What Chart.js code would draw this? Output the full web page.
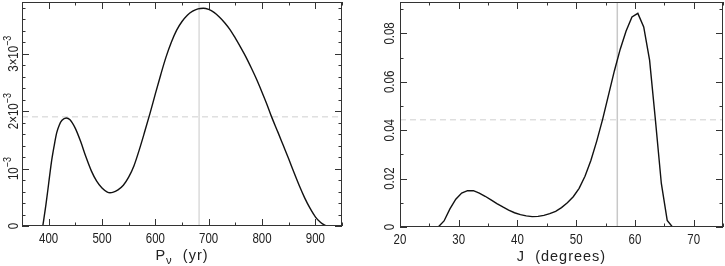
<!DOCTYPE html>
<html>
<head>
<meta charset="utf-8">
<script src="https://cdn.jsdelivr.net/npm/chart.js@4/dist/chart.umd.min.js"></script>
<style>
    html, body { margin: 0; padding: 0; background: #fff; }
    #wrap { position: relative; width: 725px; height: 266px; overflow: hidden; }
    .panel { position: absolute; top: 0; height: 266px; }
    #left { left: 0; width: 362px; }
    #right { left: 362px; width: 363px; }
</style>
</head>
<body>
<div id="wrap">
    <div class="panel" id="left"><canvas id="chartP"></canvas></div>
    <div class="panel" id="right"><canvas id="chartJ"></canvas></div>
</div>
<script>
// Left panel: distribution of the period P_nu (yr)
const periodYears = [389, 395, 400, 405, 410, 415, 420, 425, 433, 440, 450, 460, 470, 480, 490, 500, 510, 515, 520, 530,
    540, 550, 560, 570, 580, 590, 600, 610, 620, 630, 640, 650, 660, 670, 680, 690, 700, 710, 720, 730,
    740, 750, 760, 770, 780, 790, 800, 810, 818, 830, 840, 850, 860, 870, 880, 890, 900, 910, 920];
const periodDensity = [0, 0.38e-3, 0.74e-3, 1.10e-3, 1.38e-3, 1.62e-3, 1.76e-3, 1.84e-3, 1.88e-3, 1.85e-3,
    1.70e-3, 1.47e-3, 1.20e-3, 0.96e-3, 0.78e-3, 0.66e-3, 0.59e-3, 0.58e-3, 0.585e-3, 0.63e-3,
    0.71e-3, 0.85e-3, 1.05e-3, 1.33e-3, 1.64e-3, 1.96e-3, 2.30e-3, 2.63e-3, 2.94e-3, 3.20e-3,
    3.41e-3, 3.56e-3, 3.67e-3, 3.74e-3, 3.78e-3, 3.79e-3, 3.77e-3, 3.72e-3, 3.64e-3, 3.54e-3,
    3.42e-3, 3.27e-3, 3.11e-3, 2.94e-3, 2.75e-3, 2.55e-3, 2.33e-3, 2.10e-3, 1.90e-3, 1.63e-3,
    1.40e-3, 1.17e-3, 0.93e-3, 0.70e-3, 0.49e-3, 0.31e-3, 0.16e-3, 0.06e-3, 0];
const periodMarker = 682;      // grey vertical line
const periodLevel = 1.9e-3;    // dashed horizontal line
const periodXTicks = [400, 500, 600, 700, 800, 900];
const periodYTicks = [0, 1e-3, 2e-3, 3e-3];
const periodYLabels = ['0', '10^{−3}', '2×10^{−3}', '3×10^{−3}'];

// Right panel: distribution of J (degrees)
const inclDegrees = [26.5, 27.5, 28.5, 29.5, 30.5, 31.5, 32.5, 33.5, 34.5, 35.5, 36.5, 37.5, 38.5, 39.5, 40.5,
    41.5, 42.5, 43.5, 44.5, 45.5, 46.5, 47.5, 48.5, 49.5, 50.5, 51.5, 52.5, 53.5, 54.5, 55.5,
    56.5, 57.5, 58.5, 59.5, 60.5, 61.5, 62.5, 63.5, 64.5, 65.5, 66.4];
const inclDensity = [0, 0.0025, 0.0075, 0.0115, 0.0140, 0.0150, 0.0150, 0.0140, 0.0127, 0.0112, 0.0097,
    0.0083, 0.0070, 0.0059, 0.0051, 0.0046, 0.0043, 0.0044, 0.0048, 0.0055, 0.0065, 0.0080,
    0.0100, 0.0125, 0.0160, 0.0210, 0.0275, 0.0355, 0.0445, 0.0545, 0.0645, 0.0735, 0.0810,
    0.0868, 0.0883, 0.0827, 0.0690, 0.0440, 0.0180, 0.0027, 0];
const inclMarker = 57;
const inclLevel = 0.0443;
const inclXTicks = [20, 30, 40, 50, 60, 70];
const inclYTicks = [0, 0.02, 0.04, 0.06, 0.08];
const inclYLabels = ['0', '0.02', '0.04', '0.06', '0.08'];

const TEXT_FONT = '"Liberation Sans", Arial, sans-serif';
const TEXT_COLOR = '#222';
const TICK_SIZE = 14;
const TICK_SQUEEZE = 0.82;

// split "2×10^{−3}" into plain / superscript / subscript pieces
function parseRich(str) {
    const parts = [];
    const re = /([\^_])\{([^}]*)\}/g;
    let last = 0, m;
    while ((m = re.exec(str))) {
        if (m.index > last) parts.push({ t: str.slice(last, m.index), k: '' });
        parts.push({ t: m[2], k: m[1] });
        last = re.lastIndex;
    }
    if (last < str.length) parts.push({ t: str.slice(last), k: '' });
    return parts;
}

// draws text centred on the origin, baseline at y = 0
function drawRich(ctx, str, size, squeeze, spacing) {
    ctx.letterSpacing = spacing + 'px';
    const parts = parseRich(str).map(p => {
        const s = p.k ? size * 0.78 : size;
        ctx.font = s + 'px ' + TEXT_FONT;
        return { ...p, s, w: ctx.measureText(p.t).width };
    });
    const total = parts.reduce((a, p) => a + p.w, 0);
    ctx.save();
    ctx.scale(squeeze, 1);
    ctx.fillStyle = TEXT_COLOR;
    ctx.textAlign = 'left';
    ctx.textBaseline = 'alphabetic';
    let x = -total / 2;
    parts.forEach(p => {
        ctx.font = p.s + 'px ' + TEXT_FONT;
        const dy = p.k === '^' ? -size * 0.45 : (p.k === '_' ? size * 0.3 : 0);
        ctx.fillText(p.t, x, dy);
        x += p.w;
    });
    ctx.restore();
}

// box frame, inward ticks on all sides, rotated y labels, x labels and axis title
const framePlugin = {
    id: 'frame',
    afterDraw(chart, args, o) {
        const { ctx, chartArea: a } = chart;
        const xs = chart.scales.x, ys = chart.scales.y;
        ctx.save();
        ctx.strokeStyle = '#333';
        ctx.lineWidth = 1;
        ctx.strokeRect(a.left + 0.5, a.top + 0.5, a.right - a.left - 1, a.bottom - a.top - 1);

        const seg = (x1, y1, x2, y2) => { ctx.beginPath(); ctx.moveTo(x1, y1); ctx.lineTo(x2, y2); ctx.stroke(); };
        const isMajor = (list, v, step) => list.some(t => Math.abs(t - v) < step * 1e-3);

        for (let n = Math.ceil(xs.min / o.xMinor); n * o.xMinor <= xs.max + 1e-9; n++) {
            const v = n * o.xMinor;
            const len = isMajor(o.xTicks, v, o.xMinor) ? 7 : 3.5;
            const px = Math.round(xs.getPixelForValue(v)) + 0.5;
            seg(px, a.bottom, px, a.bottom - len);
            seg(px, a.top, px, a.top + len);
        }
        for (let n = Math.ceil(ys.min / o.yMinor - 1e-9); n * o.yMinor <= ys.max + 1e-12; n++) {
            const v = n * o.yMinor;
            const len = isMajor(o.yTicks, v, o.yMinor) ? 7 : 3.5;
            const py = Math.round(ys.getPixelForValue(v)) + 0.5;
            seg(a.left, py, a.left + len, py);
            seg(a.right, py, a.right - len, py);
        }

        o.xTicks.forEach(v => {
            ctx.save();
            ctx.translate(xs.getPixelForValue(v), a.bottom + o.xLabelDy);
            drawRich(ctx, String(v), TICK_SIZE, TICK_SQUEEZE, 0);
            ctx.restore();
        });
        o.yTicks.forEach((v, i) => {
            ctx.save();
            ctx.translate(o.yLabelX, ys.getPixelForValue(v));
            ctx.rotate(-Math.PI / 2);
            drawRich(ctx, o.yLabels[i], TICK_SIZE, TICK_SQUEEZE, 0);
            ctx.restore();
        });
        ctx.save();
        ctx.translate((a.left + a.right) / 2, o.titleY);
        drawRich(ctx, o.title, 14.5, 1, 1);
        ctx.restore();
        ctx.restore();
    }
};

function makePanel(id, p) {
    const curve = p.xs.map((x, i) => ({ x, y: p.ys[i] }));
    new Chart(document.getElementById(id), {
        type: 'line',
        data: {
            datasets: [
                { data: curve, borderColor: '#111', borderWidth: 1.4, pointRadius: 0,
                  tension: p.smooth ? 0.4 : 0, cubicInterpolationMode: p.smooth ? 'monotone' : 'default' },
                { data: [{ x: p.marker, y: p.yMin }, { x: p.marker, y: p.yMax }],
                  borderColor: '#c8c8c8', borderWidth: p.markerWidth, pointRadius: 0 },
                { data: [{ x: p.xMin, y: p.level }, { x: p.xMax, y: p.level }],
                  borderColor: '#cfcfcf', borderWidth: 1, borderDash: [6, 4], pointRadius: 0 }
            ]
        },
        options: {
            responsive: true,
            maintainAspectRatio: false,
            animation: false,
            events: [],
            layout: { padding: p.padding },
            plugins: {
                legend: { display: false },
                tooltip: { enabled: false },
                frame: p.frame
            },
            scales: {
                x: {
                    type: 'linear', min: p.xMin, max: p.xMax,
                    ticks: { display: false },
                    grid: { display: false, drawTicks: false },
                    border: { display: false },
                    afterFit: s => { s.height = p.xAxisHeight; }
                },
                y: {
                    type: 'linear', min: p.yMin, max: p.yMax,
                    ticks: { display: false },
                    grid: { display: false, drawTicks: false },
                    border: { display: false },
                    afterFit: s => { s.width = p.yAxisWidth; }
                }
            }
        },
        plugins: [framePlugin]
    });
}

makePanel('chartP', {
    xs: periodYears, ys: periodDensity, smooth: true,
    marker: periodMarker, markerWidth: 1, level: periodLevel,
    xMin: 350, xMax: 950, yMin: 0, yMax: 3.9e-3,
    padding: { left: 0, right: 20, top: 2, bottom: 0 },
    xAxisHeight: 40, yAxisWidth: 22,
    frame: {
        xTicks: periodXTicks, xMinor: 50, yTicks: periodYTicks, yMinor: 0.2e-3,
        yLabels: periodYLabels, yLabelX: 17.5, xLabelDy: 16.5,
        title: 'P_{ν}  (yr)', titleY: 260
    }
});

makePanel('chartJ', {
    xs: inclDegrees, ys: inclDensity, smooth: false,
    marker: inclMarker, markerWidth: 1.5, level: inclLevel,
    xMin: 20, xMax: 75, yMin: 0, yMax: 0.093,
    padding: { left: 0, right: 2, top: 2, bottom: 0 },
    xAxisHeight: 39, yAxisWidth: 38,
    frame: {
        xTicks: inclXTicks, xMinor: 5, yTicks: inclYTicks, yMinor: 0.01,
        yLabels: inclYLabels, yLabelX: 31.5, xLabelDy: 16.5,
        title: 'J  (degrees)', titleY: 261
    }
});
</script>
</body>
</html>
